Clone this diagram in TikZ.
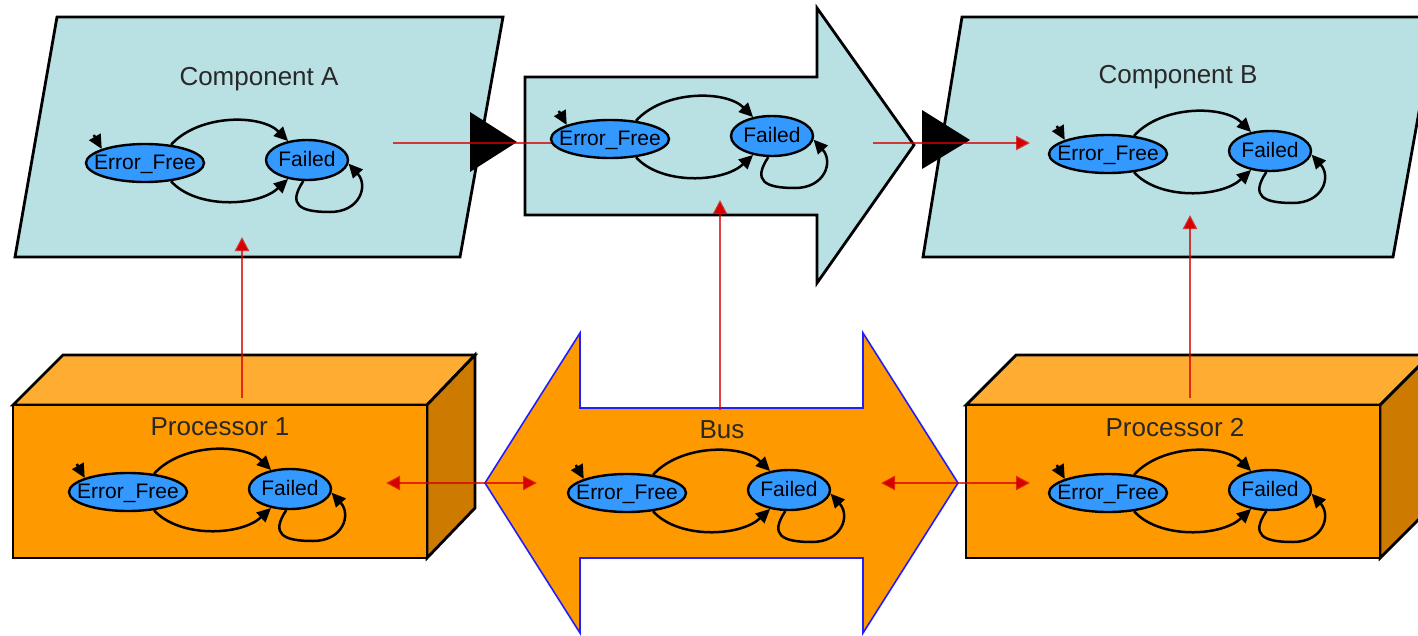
\documentclass[tikz,border=0pt]{standalone}
\usepackage{fontspec}
\setmainfont{Liberation Sans}
\usetikzlibrary{shapes.geometric,arrows.meta}

\definecolor{compfill}{RGB}{185,224,227}
\definecolor{boxfront}{RGB}{255,153,0}
\definecolor{boxtop}{RGB}{255,172,50}
\definecolor{boxside}{RGB}{204,122,0}
\definecolor{stfill}{RGB}{51,153,255}
\definecolor{flow}{RGB}{215,0,0}
\definecolor{busline}{RGB}{30,30,255}
\definecolor{titlegray}{RGB}{40,40,40}

\newcommand{\stlabel}[1]{\makebox[0pt]{#1}}

\tikzset{
  outline/.style={draw=black, line width=2.8pt, line join=miter},
  fsmstate/.style={ellipse, draw=black, fill=stfill, line width=2.4pt, inner sep=0pt,
    text height=13pt, text depth=0pt, font=\fontsize{21}{23}\selectfont},
  trans/.style={draw=black, line width=2.5pt, -{Triangle[length=14pt,width=13pt]}},
  flowline/.style={draw=flow, line width=2.4pt, draw opacity=0.75},
  flowarrow/.style={flowline, -{Triangle[length=14pt,width=14pt]}},
  flowboth/.style={flowline, {Triangle[length=14pt,width=14pt]}-{Triangle[length=14pt,width=14pt]}},
  title/.style={anchor=base, text=titlegray, font=\fontsize{26}{30}\selectfont},
  fsm/.pic={
    \node[fsmstate, minimum width=118pt, minimum height=38pt] (-ef) at (0,0) {\stlabel{Error\_Free}};
    \node[fsmstate, minimum width=82pt, minimum height=40pt] (-f) at (162,-3) {\stlabel{Failed}};
    \draw[trans] ([shift={(-8,-14)}]-ef.162) -- (-ef.162);
    \draw[trans] (-ef.35) .. controls +(28,-31) and +(-27,-27) .. (-f.135);
    \draw[trans] (-ef.-35) .. controls +(25,28) and +(-30,28) .. (-f.-135);
    \draw[trans] (-f.-100) .. controls +(-16,24) and +(-30,0) .. (185,49)
                 .. controls +(30,0) and +(20,22) .. (-f.-5);
  }
}

\begin{document}
\begin{tikzpicture}[x=1pt, y=-1pt]
\useasboundingbox (0,0) rectangle (1418,635);
\clip (0,0) rectangle (1418,635);

% software components (parallelograms)
\path[outline, fill=compfill] (57,17) -- (503,17) -- (460,257) -- (15,257) -- cycle;
\path[outline, fill=compfill] (962,17) -- (1436,17) -- (1393,257) -- (923,257) -- cycle;

% connection between the components (block arrow)
\path[outline, fill=compfill] (525,77) -- (817,77) -- (817,8) -- (914,145)
  -- (817,283) -- (817,215) -- (525,215) -- cycle;

% processors (cuboids)
\path[outline, fill=boxtop] (13,405) -- (63,355) -- (475,355) -- (427,405) -- cycle;
\path[outline, fill=boxside] (427,405) -- (475,355) -- (475,508) -- (427,558) -- cycle;
\path[outline, fill=boxfront] (13,405) rectangle (427,558);

\path[outline, fill=boxtop] (966,405) -- (1016,355) -- (1430,355) -- (1380,405) -- cycle;
\path[outline, fill=boxside] (1380,405) -- (1430,355) -- (1430,508) -- (1380,558) -- cycle;
\path[outline, fill=boxfront] (966,405) rectangle (1380,558);

% bus (double block arrow)
\path[draw=busline, line width=1.6pt, fill=boxfront] (485,483) -- (580,333) -- (580,408)
  -- (863,408) -- (863,333) -- (958,483) -- (863,633) -- (863,558)
  -- (580,558) -- (580,633) -- cycle;

% titles
\node[title] (ta) at (259,85) {Component A};
\node[title] (tb) at (1178,83) {Component B};
\node[title] (tp1) at (220,435) {Processor 1};
\node[title] (tp2) at (1175,436) {Processor 2};
\node[title] (tbus) at (722,438) {Bus};

% ports
\fill[black] (470,112) -- (517,142) -- (470,172) -- cycle;
\fill[black] (922,110) -- (970,140) -- (922,169) -- cycle;

% flow connectors
\coordinate (a-out) at (393,143);
\coordinate (mid-port) at (572,143);
\coordinate (m-out) at (873,143);
\coordinate (b-in) at (1030,143);
\coordinate (p1-top) at (242,398);
\coordinate (a-in) at (242,237);
\coordinate (bus-top) at (720,410);
\coordinate (m-in) at (720,200);
\coordinate (p2-top) at (1190,398);
\coordinate (b-bot) at (1190,215);
\coordinate (p1-in) at (386,483);
\coordinate (bus-l) at (537,483);
\coordinate (bus-r) at (881,483);
\coordinate (p2-in) at (1030,483);

\draw[flowarrow] (a-out) -- (mid-port);
\draw[flowarrow] (m-out) -- (b-in);
\draw[flowarrow] (p1-top) -- (a-in);
\draw[flowarrow] (bus-top) -- (m-in);
\draw[flowarrow] (p2-top) -- (b-bot);
\draw[flowboth] (p1-in) -- (bus-l);
\draw[flowboth] (bus-r) -- (p2-in);

% error models
\pic (mid) at (610,139) {fsm};
\pic (ca) at (145,163) {fsm};
\pic (cb) at (1108,154) {fsm};
\pic (p1) at (128,492) {fsm};
\pic (bus) at (627,493) {fsm};
\pic (p2) at (1108,493) {fsm};
\end{tikzpicture}
\end{document}
